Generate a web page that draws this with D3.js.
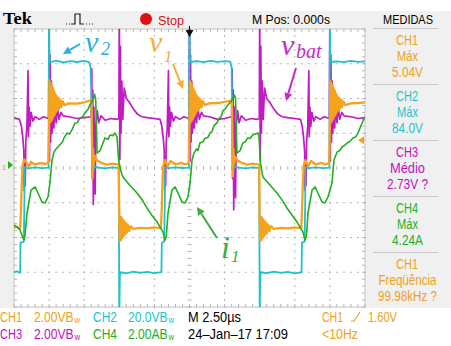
<!DOCTYPE html>
<html><head><meta charset="utf-8">
<script src="https://cdn.jsdelivr.net/npm/d3@7/dist/d3.min.js"></script>
<style>html,body{margin:0;padding:0;background:#fff}svg{display:block}</style>
</head><body>
<svg id="c" width="451" height="346"></svg>
<script>
// ---- DATA (time in µs, values in channel units) ----
const timeDivs = [-12.5,-10,-7.5,-5,-2.5,0,2.5,5,7.5,10,12.5];
const voltDivs = [-4,-3,-2,-1,0,1,2,3,4];
// CH2 v2 (V), 20 V/div
const v2 = [
[-12.5,-60],[-12.3,-59.4],[-12.1,-60.3],[-12.06,-59.8],[-12.04,-43],[-11.8,-42.5],[-11.76,-20],[-11.74,0.5],[-11.5,-0.2],[-11.0,0.4],[-10.5,-0.1],[-10.04,0.2],
[-10.0,84],[-9.97,63],[-9.9,61],[-9.5,61.8],[-9.0,60.8],[-8.5,61.5],[-8.0,61],[-7.5,61.6],[-7.15,61],[-7.05,58],[-6.98,40],[-6.95,10],[-6.9,3],[-6.85,-2],[-6.8,1],[-6.5,0.2],[-6.0,-0.2],[-5.5,0.4],[-5.04,0.0],
[-5.0,-85],[-4.96,-62],[-4.9,-60],[-4.5,-60.6],[-4.0,-59.6],[-3.5,-60.4],[-3.0,-59.8],[-2.5,-60.5],[-2.0,-59.9],[-1.97,-43],[-1.8,-42.3],[-1.76,-20],[-1.74,0.5],[-1.5,-0.1],[-1.0,0.4],[-0.5,0.0],[-0.04,0.2],
[0.0,84],[0.03,63],[0.1,61],[0.5,61.5],[1.0,60.9],[1.5,61.7],[2.0,61.1],[2.5,61.5],[2.9,61.2],[3.0,58],[3.03,30],[3.06,5],[3.1,-2],[3.15,1],[3.5,0.2],[4.0,-0.2],[4.5,0.3],[4.96,0.0],
[5.0,-85],[5.04,-62],[5.1,-60],[5.5,-60.5],[6.0,-59.7],[6.5,-60.3],[7.0,-59.8],[7.5,-60.6],[7.98,-60],[8.01,-43],[8.2,-42.4],[8.24,-20],[8.26,0.5],[8.5,-0.1],[9.0,0.3],[9.5,-0.1],[9.96,0.2],
[10.0,84],[10.03,63],[10.1,61],[10.5,61.4],[11.0,60.9],[11.5,61.6],[12.0,61.1],[12.5,61.4]
];
// CH1 v1 (V), 2 V/div
const v1 = [
[-12.5,-3.45],[-12.3,-3.38],[-12.15,-3.5],[-12.06,-3.45],[-12.0,-2.4],[-11.94,-0.7],[-11.88,0.15],[-11.78,0.5],[-11.6,0.3],[-11.45,0.05],[-11.3,0.35],[-11.0,0.2],[-10.6,0.3],[-10.3,0.22],[-10.05,0.3],
[-10.0,2.5],[-9.97,5.04],[-9.93,2.6],[-9.89,4.9],[-9.85,2.7],[-9.81,4.75],[-9.77,2.8],[-9.73,4.6],[-9.69,2.95],[-9.65,4.45],[-9.61,3.05],[-9.57,4.3],[-9.52,3.2],[-9.47,4.15],[-9.42,3.3],[-9.36,4.05],[-9.3,3.4],[-9.22,3.95],[-9.14,3.5],[-9.05,3.85],[-8.9,3.62],[-8.6,3.72],[-8.0,3.7],[-7.5,3.78],[-7.1,3.88],[-6.98,3.92],
[-6.94,1.5],[-6.91,-0.6],[-6.87,1.1],[-6.82,0.2],[-6.75,0.7],[-6.6,0.45],[-6.3,0.3],[-5.9,0.2],[-5.5,0.25],[-5.04,0.2],
[-5.0,-3.0],[-4.97,-4.2],[-4.93,-2.8],[-4.89,-4.15],[-4.85,-2.85],[-4.81,-4.05],[-4.77,-2.95],[-4.72,-3.95],[-4.67,-3.05],[-4.61,-3.85],[-4.55,-3.15],[-4.48,-3.75],[-4.4,-3.25],[-4.3,-3.62],[-4.2,-3.35],[-4.0,-3.5],[-3.5,-3.44],[-3.0,-3.48],[-2.5,-3.42],[-2.04,-3.46],
[-1.98,-2.4],[-1.92,-0.7],[-1.86,0.15],[-1.75,0.45],[-1.55,0.1],[-1.35,0.4],[-1.0,0.2],[-0.6,0.3],[-0.3,0.2],[-0.05,0.3],
[0.0,2.5],[0.03,5.0],[0.07,2.6],[0.11,4.9],[0.15,2.7],[0.19,4.75],[0.23,2.8],[0.27,4.6],[0.31,2.95],[0.35,4.45],[0.39,3.05],[0.43,4.3],[0.48,3.2],[0.53,4.15],[0.58,3.3],[0.64,4.05],[0.7,3.4],[0.78,3.95],[0.86,3.5],[0.95,3.85],[1.1,3.62],[1.4,3.72],[2.0,3.74],[2.5,3.8],[2.9,3.86],[3.02,3.9],
[3.06,1.5],[3.09,-0.5],[3.13,1.1],[3.18,0.2],[3.25,0.65],[3.4,0.45],[3.7,0.3],[4.1,0.2],[4.5,0.25],[4.96,0.2],
[5.0,-3.0],[5.03,-4.2],[5.07,-2.8],[5.11,-4.15],[5.15,-2.85],[5.19,-4.05],[5.23,-2.95],[5.28,-3.95],[5.33,-3.05],[5.39,-3.85],[5.45,-3.15],[5.52,-3.75],[5.6,-3.25],[5.7,-3.62],[5.8,-3.35],[6.0,-3.5],[6.5,-3.44],[7.0,-3.48],[7.5,-3.42],[7.96,-3.46],
[8.02,-2.4],[8.08,-0.7],[8.14,0.15],[8.25,0.45],[8.45,0.1],[8.65,0.4],[9.0,0.2],[9.4,0.3],[9.7,0.2],[9.95,0.3],
[10.0,2.5],[10.03,5.0],[10.07,2.6],[10.11,4.9],[10.15,2.7],[10.19,4.75],[10.23,2.8],[10.27,4.6],[10.31,2.95],[10.35,4.45],[10.39,3.05],[10.43,4.3],[10.48,3.2],[10.53,4.15],[10.58,3.3],[10.64,4.05],[10.7,3.4],[10.78,3.95],[10.86,3.5],[10.95,3.85],[11.1,3.62],[11.5,3.72],[12.0,3.74],[12.5,3.78]
];
// CH3 vbat (V), 2 V/div
const v3 = [
[-12.5,2.9],[-12.3,2.85],[-12.12,2.8],[-11.98,2.45],[-11.88,1.8],[-11.8,1.0],[-11.77,-1.3],[-11.74,0.5],[-11.7,-1.0],[-11.66,1.5],[-11.58,2.4],[-11.5,5.6],[-11.47,1.8],[-11.42,3.5],[-11.36,2.4],[-11.28,3.2],[-11.15,2.7],[-11.0,2.95],[-10.7,2.8],[-10.4,2.95],[-10.04,2.85],
[-10.0,9],[-9.97,0.4],[-9.93,6.5],[-9.89,1.5],[-9.84,5.0],[-9.79,2.0],[-9.73,4.4],[-9.66,2.3],[-9.58,3.9],[-9.5,2.6],[-9.4,3.5],[-9.3,2.8],[-9.15,3.2],[-9.0,3.0],[-8.6,2.95],[-8.0,2.85],[-7.5,2.9],[-7.0,2.95],
[-6.96,5.7],[-6.93,-0.6],[-6.89,4.5],[-6.85,-2.1],[-6.81,3.5],[-6.76,1.0],[-6.72,-1.5],[-6.67,2.5],[-6.57,3.3],[-6.47,2.6],[-6.3,3.0],[-6.0,2.75],[-5.6,2.85],[-5.2,2.8],[-5.03,2.85],
[-5.0,9],[-4.96,0.5],[-4.92,7],[-4.88,2.0],[-4.82,5.0],[-4.75,2.8],[-4.65,4.6],[-4.5,4.0],[-4.3,3.8],[-4.0,3.4],[-3.7,3.1],[-3.4,2.95],[-3.0,2.9],[-2.5,2.85],[-2.1,2.8],
[-1.98,2.45],[-1.88,1.8],[-1.8,1.0],[-1.77,-1.3],[-1.74,0.5],[-1.7,-1.0],[-1.66,1.5],[-1.58,2.4],[-1.5,5.6],[-1.47,1.8],[-1.42,3.5],[-1.36,2.4],[-1.28,3.2],[-1.15,2.7],[-1.0,2.95],[-0.7,2.8],[-0.4,2.95],[-0.04,2.85],
[0.0,9],[0.03,0.4],[0.07,6.5],[0.11,1.5],[0.16,5.0],[0.21,2.0],[0.27,4.3],[0.34,2.3],[0.42,3.9],[0.5,2.6],[0.6,3.5],[0.7,2.8],[0.85,3.2],[1.0,3.0],[1.4,2.95],[2.0,2.8],[2.5,2.85],[3.0,2.95],
[3.04,5.7],[3.07,-0.6],[3.11,4.5],[3.15,-2.4],[3.19,3.5],[3.24,1.0],[3.28,-1.7],[3.33,2.5],[3.43,3.3],[3.53,2.6],[3.7,3.0],[4.0,2.75],[4.4,2.85],[4.8,2.8],[4.97,2.85],
[5.0,9],[5.04,0.5],[5.08,7],[5.12,2.0],[5.18,5.0],[5.25,2.8],[5.35,4.6],[5.5,4.0],[5.7,3.8],[6.0,3.4],[6.3,3.1],[6.6,2.95],[7.0,2.9],[7.5,2.85],[7.9,2.8],
[8.02,2.45],[8.12,1.8],[8.2,1.0],[8.23,-1.3],[8.26,0.5],[8.3,-1.0],[8.34,1.5],[8.42,2.4],[8.5,5.6],[8.53,1.8],[8.58,3.5],[8.64,2.4],[8.72,3.2],[8.85,2.7],[9.0,2.95],[9.3,2.8],[9.6,2.95],[9.96,2.85],
[10.0,9],[10.03,0.4],[10.07,6.5],[10.11,1.5],[10.16,5.0],[10.21,2.0],[10.27,4.3],[10.34,2.3],[10.42,3.9],[10.5,2.6],[10.6,3.5],[10.7,2.8],[10.85,3.2],[11.0,3.0],[11.5,2.95],[12.0,2.85],[12.5,2.9]
];
// CH4 i1 (A), 2 A/div
const i1 = [
[-12.5,-3.28],[-12.2,-3.45],[-12.07,-3.57],[-11.86,-4.03],[-11.78,-4.14],[-11.72,-3.9],[-11.57,-2.59],[-11.29,-1.27],[-11.0,-1.09],[-10.79,-1.44],[-10.51,-1.96],[-10.29,-2.01],[-10.08,-1.67],[-9.94,-0.86],[-9.79,0.46],[-9.65,0.92],[-9.5,1.1],[-9.37,1.21],[-9.22,1.35],[-9.05,1.5],[-8.95,1.7],[-8.73,2.01],[-8.55,1.95],[-8.37,2.19],[-8.16,2.59],[-8.0,2.6],[-7.8,2.88],[-7.6,2.95],[-7.44,3.17],[-7.25,3.35],[-7.09,3.63],[-6.9,3.9],[-6.76,4.24],[-6.68,3.9],[-6.58,0.86],[-6.37,1.0],[-6.16,1.44],[-6.02,1.73],[-5.8,1.65],[-5.66,1.9],[-5.45,1.85],[-5.31,2.01],[-5.16,1.8],[-5.05,0.46],[-4.88,-0.2],[-4.74,-0.52],[-4.3,-0.95],[-3.74,-1.44],[-3.4,-1.8],[-3.03,-2.3],[-2.7,-2.7],[-2.31,-3.11],[-1.89,-3.68],[-1.74,-4.14],[-1.65,-3.9],[-1.53,-2.59],[-1.25,-1.27],[-1.03,-1.09],[-0.82,-1.44],[-0.53,-1.96],[-0.32,-2.01],[-0.11,-1.67],
[0.04,-0.86],[0.18,0.46],[0.32,0.86],[0.5,1.1],[0.6,1.0],[0.75,1.45],[0.95,1.5],[1.1,1.7],[1.3,1.75],[1.46,2.01],[1.6,2.1],[1.75,2.45],[1.96,2.6],[2.1,2.85],[2.25,2.95],[2.39,3.3],[2.55,3.4],[2.7,3.6],[2.88,3.75],[3.05,3.95],[3.2,4.2],[3.28,4.0],[3.38,0.86],[3.6,1.0],[3.8,1.44],[3.95,1.5],[4.15,1.73],[4.31,1.7],[4.5,1.9],[4.67,1.95],[4.88,2.01],[4.95,1.8],[5.05,0.3],[5.23,-0.52],[5.7,-0.95],[6.23,-1.44],[6.6,-1.85],[6.94,-2.3],[7.3,-2.7],[7.66,-3.11],[8.08,-3.68],[8.23,-4.14],[8.33,-3.9],[8.44,-2.59],[8.73,-1.27],[8.94,-1.09],[9.15,-1.44],[9.44,-1.96],[9.65,-2.01],[9.86,-1.67],
[10.15,-0.86],[10.29,0.46],[10.51,0.92],[10.7,1.0],[10.86,1.21],[11.05,1.3],[11.22,1.44],[11.45,1.55],[11.65,1.73],[11.85,1.8],[12.0,2.01],[12.29,2.59],[12.5,2.94]
];
const channels = [
  {name:'CH3', data:v3, vdiv:2,  color:'#c21bc4', sw:1.7},
  {name:'CH2', data:v2, vdiv:20, color:'#1fc2c9', sw:1.8},
  {name:'CH1', data:v1, vdiv:2,  color:'#f7a21c', sw:2.3},
  {name:'CH4', data:i1, vdiv:2,  color:'#22ae22', sw:1.6}
];
const measures = [
  {ch:'CH1', label:'Máx', value:'5.04V', color:'#f0a020'},
  {ch:'CH2', label:'Máx', value:'84.0V', color:'#1ec4cc'},
  {ch:'CH3', label:'Médio', value:'2.73V ?', color:'#c010c0'},
  {ch:'CH4', label:'Máx', value:'4.24A', color:'#22b022'},
  {ch:'CH1', label:'Freqüência', value:'99.98kHz ?', color:'#f0a020'}
];

// ---- LAYOUT ----
const W=451,H=346, L=14,R=365,T=29,B=307;
const svg=d3.select('#c');
const FF='"Liberation Sans", Arial, sans-serif';
const SERIF='"Liberation Serif", "Times New Roman", serif';
svg.append('rect').attr('width',W).attr('height',H).attr('fill','#f0f0f0');
svg.append('rect').attr('width',W).attr('height',11).attr('fill','#ffffff');
svg.append('rect').attr('x',0).attr('y',B+1).attr('width',W).attr('height',H-B-1).attr('fill','#ffffff');

const x=d3.scaleLinear().domain([-12.5,12.5]).range([L,R]);
const yDiv=d3.scaleLinear().domain([-4,4]).range([B,T]);

svg.append('rect').attr('x',L).attr('y',T).attr('width',R-L).attr('height',B-T).attr('fill','#fff').attr('stroke','#c4c4c4').attr('stroke-width',1);

const grid=svg.append('g').attr('fill','#b4b4b4');
const subT = d3.range(-12.5,12.51,0.5);
const subV = d3.range(-4,4.01,0.2);
timeDivs.slice(1,-1).forEach(t=>{
  if(t===0) return;
  subV.forEach(v=>grid.append('rect').attr('x',x(t)-0.5).attr('y',yDiv(v)-1).attr('width',1).attr('height',2));
});
voltDivs.slice(1,-1).forEach(v=>{
  if(v===0) return;
  subT.forEach(t=>grid.append('rect').attr('x',x(t)-1).attr('y',yDiv(v)-0.5).attr('width',2).attr('height',1));
});
subT.forEach(t=>grid.append('rect').attr('x',x(t)-0.5).attr('y',yDiv(0)-2).attr('width',1).attr('height',4));
subV.forEach(v=>grid.append('rect').attr('x',x(0)-2).attr('y',yDiv(v)-0.5).attr('width',4).attr('height',1));
subT.forEach(t=>{
  grid.append('rect').attr('x',x(t)-0.5).attr('y',T).attr('width',1).attr('height',3);
  grid.append('rect').attr('x',x(t)-0.5).attr('y',B-3).attr('width',1).attr('height',3);
});
subV.forEach(v=>{
  grid.append('rect').attr('x',L).attr('y',yDiv(v)-0.5).attr('width',3).attr('height',1);
  grid.append('rect').attr('x',R-3).attr('y',yDiv(v)-0.5).attr('width',3).attr('height',1);
});

// traces
svg.append('clipPath').attr('id','pc').append('rect').attr('x',L).attr('y',T).attr('width',R-L).attr('height',B-T);
const tg=svg.append('g').attr('clip-path','url(#pc)');
channels.forEach(ch=>{
  const y=d3.scaleLinear().domain([-4*ch.vdiv,4*ch.vdiv]).range([B,T]);
  const line=d3.line().x(d=>x(d[0])).y(d=>y(d[1]));
  tg.append('path').datum(ch.data).attr('d',line).attr('fill','none')
    .attr('stroke',ch.color).attr('stroke-width',ch.sw).attr('stroke-linejoin','round');
});

// trigger markers
svg.append('path').attr('d',`M${x(0)-4},${T+1}L${x(0)+4},${T+1}L${x(0)},${T+8}Z`).attr('fill','#111');
svg.append('rect').attr('x',x(0)-0.5).attr('y',T-3).attr('width',1).attr('height',4).attr('fill','#111');
const y1=d3.scaleLinear().domain([-8,8]).range([B,T]);
svg.append('path').attr('d',`M${R-1},${y1(1.6)-4}L${R-1},${y1(1.6)+4}L${R-7},${y1(1.6)}Z`).attr('fill','#f7a21c');
svg.append('text').attr('x',2).attr('y',yDiv(0)+2).attr('font-size',8).attr('font-family',FF).attr('fill','#f0a020').text('1');
svg.append('path').attr('d',`M8,${yDiv(0)-7}L8,${yDiv(0)+1}L13,${yDiv(0)-3}Z`).attr('fill','#22b022');

function txt(xp,yp,s,o){
  o=o||{};
  const e=svg.append('text').attr('x',xp).attr('y',yp).text(s)
    .attr('fill',o.c||'#000').attr('font-size',o.fs||13).attr('font-family',o.ff||FF);
  if(o.w) e.attr('textLength',o.w).attr('lengthAdjust','spacingAndGlyphs');
  if(o.a) e.attr('text-anchor',o.a);
  if(o.fw) e.attr('font-weight',o.fw);
  if(o.st) e.attr('font-style',o.st);
  return e;
}
txt(3,24,'Tek',{fs:16,fw:'bold',ff:SERIF,w:29});
svg.append('path').attr('d','M71,24H75V14H80V24H84').attr('fill','none').attr('stroke','#222').attr('stroke-width',1.2);
svg.append('path').attr('d','M86,24H95').attr('fill','none').attr('stroke','#222').attr('stroke-width',1).attr('stroke-dasharray','1,2');
svg.append('path').attr('d','M66,24H70').attr('fill','none').attr('stroke','#222').attr('stroke-width',1).attr('stroke-dasharray','1,2');
svg.append('circle').attr('cx',146).attr('cy',19).attr('r',6).attr('fill','#e01010');
txt(158,24.5,'Stop',{c:'#d01010',fs:13.5,w:26});
txt(252,24,'M Pos: 0.000s',{fs:13,w:78});
txt(383,24,'MEDIDAS',{fs:13,w:50});

const seps=[28,84,140,196,252];
measures.forEach((m,i)=>{
  const s=seps[i];
  svg.append('rect').attr('x',373).attr('y',s).attr('width',65).attr('height',1).attr('fill','#c8c8c8');
  txt(407,s+17,m.ch,{c:m.color,fs:15,a:'middle',w:22});
  txt(407.5,s+32.5,m.label,{c:m.color,fs:14,a:'middle',w:m.label.length>5?58:(m.label.length>3?35:21)});
  txt(407.5,s+49,m.value,{c:m.color,fs:14,a:'middle',w:m.value.length>8?59:(m.value.length>5?41:31)});
});

const OR='#f0a020',CY='#1ec4cc',MG='#c010c0',GR='#22b022';
// "value + Bw" label drawn at natural size inside a horizontally scaled group
function bw(x0,yb,s,c){
  const g=svg.append('g');
  const a=g.append('text').attr('x',0).attr('y',0).attr('fill',c).attr('font-size',14).attr('font-family',FF).text(s+'B');
  const wa=a.node().getComputedTextLength();
  const b=g.append('text').attr('x',wa+0.8).attr('y',1).attr('fill',c).attr('font-size',9).attr('font-family',FF).text('w');
  const wb=b.node().getComputedTextLength();
  const sx=46/(wa+0.8+wb);
  g.attr('transform',`translate(${x0},${yb}) scale(${sx},1)`);
}
txt(0,322,'CH1',{c:OR,fs:14,w:22}); bw(34,322,'2.00V',OR);
txt(93,322,'CH2',{c:CY,fs:14,w:24}); bw(128,322,'20.0V',CY);
txt(188,322,'M 2.50µs',{fs:14,w:53});
txt(322,322,'CH1',{c:OR,fs:14,w:21});
svg.append('path').attr('d','M351,321H354L360,312').attr('fill','none').attr('stroke',OR).attr('stroke-width',1.2);
txt(368,322,'1.60V',{c:OR,fs:14,w:29});
txt(0,339,'CH3',{c:MG,fs:14,w:22}); bw(34,339,'2.00V',MG);
txt(93,339,'CH4',{c:GR,fs:14,w:24}); bw(128,339,'2.00A',GR);
txt(188,339,'24–Jan–17 17:09',{fs:14,w:100});
txt(322,339,'<10Hz',{c:OR,fs:14,w:36});

function arrow(x1,y1,x2,y2,c){
  const a=Math.atan2(y2-y1,x2-x1), hl=8, hw=4;
  const bx=x2-hl*Math.cos(a), by=y2-hl*Math.sin(a);
  svg.append('line').attr('x1',x1).attr('y1',y1).attr('x2',bx).attr('y2',by).attr('stroke',c).attr('stroke-width',2);
  svg.append('path').attr('d',`M${x2},${y2}L${bx-hw*Math.sin(a)},${by+hw*Math.cos(a)}L${bx+hw*Math.sin(a)},${by-hw*Math.cos(a)}Z`).attr('fill',c);
}
const LB='#2aaee2', LO='#f7ad3a', LM='#c42cc4', LG='#3cae3c';
txt(85,52,'v',{c:LB,fs:30,ff:SERIF,st:'italic'}); txt(101,55,'2',{c:LB,fs:18,ff:SERIF,st:'italic'});
arrow(80,44,63,54,LB);
txt(149,52,'v',{c:LO,fs:30,ff:SERIF,st:'italic'}); txt(164,62,'1',{c:LO,fs:17,ff:SERIF,st:'italic'});
arrow(173,64,183,89,LO);
txt(281,55,'v',{c:LM,fs:30,ff:SERIF,st:'italic'}); txt(296,58,'bat',{c:LM,fs:20,ff:SERIF,st:'italic'});
arrow(296,68,286,101,LM);
txt(221,258,'i',{c:LG,fs:32,ff:SERIF,st:'italic'}); txt(231,262,'1',{c:LG,fs:17,ff:SERIF,st:'italic'});
arrow(217,238,197,207,LG);
</script>
</body></html>
